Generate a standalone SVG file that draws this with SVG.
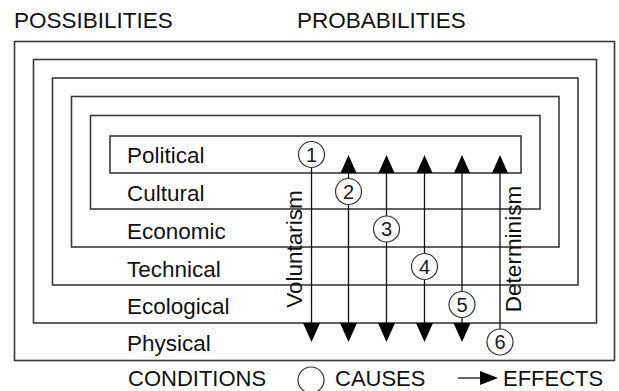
<svg xmlns="http://www.w3.org/2000/svg" width="619" height="391" viewBox="0 0 619 391">
<style>
  .frame { fill: none; stroke: #3a3a3a; stroke-width: 1.6; }
  .lbl { font-family: "Liberation Sans", Arial, sans-serif; font-size: 22.5px; fill: #111111; }
  .leg { font-family: "Liberation Sans", Arial, sans-serif; font-size: 22px; fill: #111111; }
  .num { font-family: "Liberation Sans", Arial, sans-serif; font-size: 20px; fill: #1a1a1a; text-anchor: middle; }
  .cause { fill: #ffffff; stroke: #333333; stroke-width: 1.2; }
  .link { stroke: #111111; stroke-width: 1.3; fill: none; }
  .head { fill: #000000; }
</style>
<rect width="619" height="391" fill="#ffffff"/>
<g id="headings">
  <text class="lbl" x="14" y="28">POSSIBILITIES</text>
  <text class="lbl" x="297" y="28">PROBABILITIES</text>
</g>
<g id="physical">
  <rect class="frame" x="14.5" y="41.5" width="600" height="319"/>
  <text class="lbl" x="127" y="351">Physical</text>
</g>
<g id="ecological">
  <rect class="frame" x="33.5" y="59.5" width="563" height="263.5"/>
  <text class="lbl" x="127" y="313.5">Ecological</text>
</g>
<g id="technical">
  <rect class="frame" x="52.5" y="78" width="525.5" height="207"/>
  <text class="lbl" x="127" y="276.5">Technical</text>
</g>
<g id="economic">
  <rect class="frame" x="71.5" y="96.5" width="487.5" height="150.5"/>
  <text class="lbl" x="127" y="239">Economic</text>
</g>
<g id="cultural">
  <rect class="frame" x="90.5" y="115.5" width="449.5" height="93.5"/>
  <text class="lbl" x="127" y="201">Cultural</text>
</g>
<g id="political">
  <rect class="frame" x="110" y="136" width="411" height="37"/>
  <text class="lbl" x="127" y="163">Political</text>
</g>
<g id="connectors">
  <line class="link" x1="311.5" y1="154.5" x2="311.5" y2="325"/>
  <line class="link" x1="348.5" y1="171" x2="348.5" y2="325"/>
  <line class="link" x1="386.5" y1="171" x2="386.5" y2="325"/>
  <line class="link" x1="424.5" y1="171" x2="424.5" y2="325"/>
  <line class="link" x1="462" y1="171" x2="462" y2="325"/>
  <line class="link" x1="500" y1="171" x2="500" y2="342"/>
  <polygon class="head" points="340.5,173 356.5,173 348.5,155"/>
  <polygon class="head" points="378.5,173 394.5,173 386.5,155"/>
  <polygon class="head" points="416.5,173 432.5,173 424.5,155"/>
  <polygon class="head" points="454,173 470,173 462,155"/>
  <polygon class="head" points="492,173 508,173 500,155"/>
  <polygon class="head" points="303,323 320,323 311.5,342"/>
  <polygon class="head" points="340,323 357,323 348.5,342"/>
  <polygon class="head" points="378,323 395,323 386.5,342"/>
  <polygon class="head" points="416,323 433,323 424.5,342"/>
  <polygon class="head" points="453.5,323 470.5,323 462,342"/>
</g>
<g id="causes">
  <circle class="cause" cx="311.5" cy="154.5" r="13"/>
  <text class="num" x="311.5" y="161.5">1</text>
  <circle class="cause" cx="348.5" cy="191.5" r="13"/>
  <text class="num" x="348.5" y="198.5">2</text>
  <circle class="cause" cx="386.5" cy="229" r="13"/>
  <text class="num" x="386.5" y="236">3</text>
  <circle class="cause" cx="424.5" cy="266.5" r="13"/>
  <text class="num" x="424.5" y="273.5">4</text>
  <circle class="cause" cx="462" cy="304.5" r="13"/>
  <text class="num" x="462" y="311.5">5</text>
  <circle class="cause" cx="500" cy="342" r="13"/>
  <text class="num" x="500" y="349">6</text>
</g>
<g id="voluntarism">
  <text class="lbl" transform="translate(302,249) rotate(-90)" text-anchor="middle">Voluntarism</text>
</g>
<g id="determinism">
  <text class="lbl" transform="translate(521,249) rotate(-90)" text-anchor="middle">Determinism</text>
</g>
<g id="legend">
  <text class="leg" x="128" y="386">CONDITIONS</text>
  <circle class="cause" cx="311" cy="380" r="13"/>
  <text class="leg" x="335" y="386">CAUSES</text>
  <line class="link" x1="458" y1="378" x2="482" y2="378"/>
  <polygon class="head" points="480,371 480,385 498,378"/>
  <text class="leg" x="503" y="386">EFFECTS</text>
</g>
</svg>
